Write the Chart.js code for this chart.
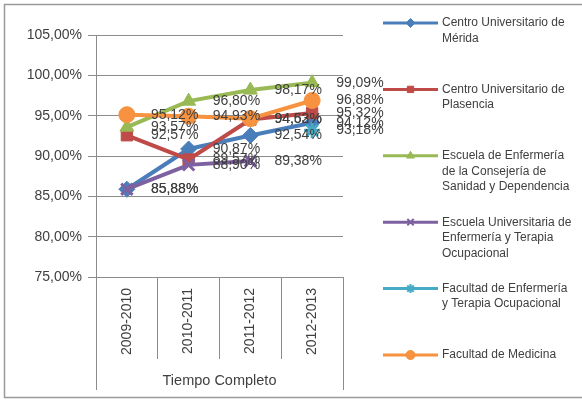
<!DOCTYPE html>
<html>
<head>
<meta charset="utf-8">
<script src="https://cdn.jsdelivr.net/npm/chart.js@4"></script>
<style>
html,body{margin:0;padding:0;background:#fff;}
canvas{display:block;}
</style>
</head>
<body>
<canvas id="c" width="582" height="401"></canvas>
<script>
// ---- data ----
const categories = ['2009-2010', '2010-2011', '2011-2012', '2012-2013'];
const axisTitle = 'Tiempo Completo';
const yTicks = [75, 80, 85, 90, 95, 100, 105];

const seriesNames = [
  ['Centro Universitario de', 'Mérida'],
  ['Centro Universitario de', 'Plasencia'],
  ['Escuela de Enfermería', 'de la Consejería de', 'Sanidad y Dependencia'],
  ['Escuela Universitaria de', 'Enfermería y Terapia', 'Ocupacional'],
  ['Facultad de Enfermería', 'y Terapia Ocupacional'],
  ['Facultad de Medicina']
];
const merida      = [85.88, 90.87, 92.54, 94.12];
const plasencia   = [92.57, 89.57, 94.52, 95.32];
const escuelaEnfSanidad = [93.57, 96.80, 98.17, 99.09];
const escuelaUnivEnf    = [85.88, 88.90, 89.38, null];
const facultadEnf       = [null, null, null, 93.18];
const medicina    = [95.12, 94.93, 94.63, 96.88];

const seriesValues = [merida, plasencia, escuelaEnfSanidad, escuelaUnivEnf, facultadEnf, medicina];
const seriesColors = ['#4A7EBB', '#BE4B48', '#98B954', '#7D60A0', '#46AAC5', '#F69240'];
const seriesMarkers = ['rectRot', 'rect', 'triangle', 'crossRot', 'star', 'circle'];

const fmt = v => v.toFixed(2).replace('.', ',') + '%';
const FONT = '"Liberation Sans", Arial, sans-serif';
const TEXT = '#404040';
const GRID = '#8c8c8c';

const isStroke = m => m === 'crossRot' || m === 'star';

const datasets = seriesValues.map((vals, i) => ({
  label: seriesNames[i].join(' '),
  data: vals,
  borderColor: seriesColors[i],
  backgroundColor: seriesColors[i],
  borderWidth: 4,
  pointStyle: seriesMarkers[i],
  pointRadius: 8,
  pointBorderWidth: isStroke(seriesMarkers[i]) ? 3 : 1,
  pointBorderColor: seriesColors[i],
  pointBackgroundColor: seriesColors[i],
  order: seriesValues.length - i,
  tension: 0
}));

const framePlugin = {
  id: 'frame',
  beforeDraw(chart) {
    const ctx = chart.ctx;
    ctx.save();
    ctx.fillStyle = '#fff';
    ctx.fillRect(0, 0, chart.width, chart.height);
    ctx.strokeStyle = '#9a9a9a';
    ctx.lineWidth = 1.5;
    ctx.strokeRect(4.5, 4.5, chart.width + 20, chart.height - 8);
    ctx.restore();
  },
  afterDraw(chart) {
    const ctx = chart.ctx;
    const a = chart.chartArea;
    ctx.save();
    ctx.strokeStyle = GRID;
    ctx.lineWidth = 1;
    [a.left, a.right].forEach(x => {
      ctx.beginPath();
      ctx.moveTo(Math.round(x) + 0.5, a.bottom);
      ctx.lineTo(Math.round(x) + 0.5, chart.height - 11);
      ctx.stroke();
    });
    ctx.restore();
  }
};

const labelPlugin = {
  id: 'dataLabels',
  afterDatasetsDraw(chart) {
    const ctx = chart.ctx;
    ctx.save();
    ctx.font = '14px ' + FONT;
    ctx.fillStyle = TEXT;
    ctx.textBaseline = 'middle';
    ctx.textAlign = 'left';
    chart.data.datasets.forEach((ds, i) => {
      const meta = chart.getDatasetMeta(i);
      meta.data.forEach((el, j) => {
        const v = ds.data[j];
        if (v == null) return;
        ctx.fillText(fmt(v), el.x + 24, el.y);
      });
    });
    ctx.restore();
  }
};

const legendPlugin = {
  id: 'sideLegend',
  afterDraw(chart) {
    const ctx = chart.ctx;
    const a = chart.chartArea;
    const x0 = a.right + 40, x1 = x0 + 55;
    const top = 23, step = 66.4, lh = 15.5;
    ctx.save();
    chart.data.datasets.forEach((ds, i) => {
      const y = top + i * step;
      ctx.strokeStyle = ds.borderColor;
      ctx.fillStyle = ds.borderColor;
      ctx.lineWidth = 3;
      ctx.beginPath();
      ctx.moveTo(x0, y);
      ctx.lineTo(x1, y);
      ctx.stroke();
      ctx.lineWidth = isStroke(ds.pointStyle) ? 2 : 1;
      Chart.helpers.drawPoint(ctx, {
        pointStyle: ds.pointStyle, radius: 4.5, rotation: 0,
        borderWidth: ctx.lineWidth
      }, (x0 + x1) / 2, y);
      ctx.font = '12px ' + FONT;
      ctx.fillStyle = TEXT;
      ctx.textBaseline = 'middle';
      ctx.textAlign = 'left';
      seriesNames[i].forEach((line, k) => ctx.fillText(line, x1 + 4, y + k * lh));
    });
    ctx.restore();
  }
};

new Chart(document.getElementById('c'), {
  type: 'line',
  data: { labels: categories, datasets },
  plugins: [framePlugin, labelPlugin, legendPlugin],
  options: {
    responsive: false,
    animation: false,
    events: [],
    layout: { padding: { left: 0, top: 35, right: 239, bottom: 0 } },
    plugins: { legend: { display: false }, tooltip: { enabled: false }, title: { display: false } },
    scales: {
      x: {
        type: 'category',
        offset: true,
        afterFit: s => { s.height = 124; },
        grid: { offset: true, drawOnChartArea: false, drawTicks: true, tickLength: 82, color: GRID, lineWidth: 1 },
        border: { display: true, color: GRID, width: 1 },
        ticks: { minRotation: 90, maxRotation: 90, autoSkip: false, padding: -71, color: TEXT, font: { family: FONT, size: 14 } },
        title: { display: true, text: axisTitle, color: TEXT, font: { family: FONT, size: 14.5 }, padding: { top: 0, bottom: 11 } }
      },
      y: {
        min: yTicks[0],
        max: yTicks[yTicks.length - 1],
        afterFit: s => { s.width = 96; },
        afterBuildTicks: s => { s.ticks = yTicks.map(v => ({ value: v })); },
        grid: { color: GRID, lineWidth: 1, tickLength: 8, drawTicks: true },
        border: { display: true, color: GRID, width: 1 },
        ticks: { padding: 6, color: TEXT, font: { family: FONT, size: 14 }, callback: v => fmt(v) }
      }
    }
  }
});
</script>
</body>
</html>
